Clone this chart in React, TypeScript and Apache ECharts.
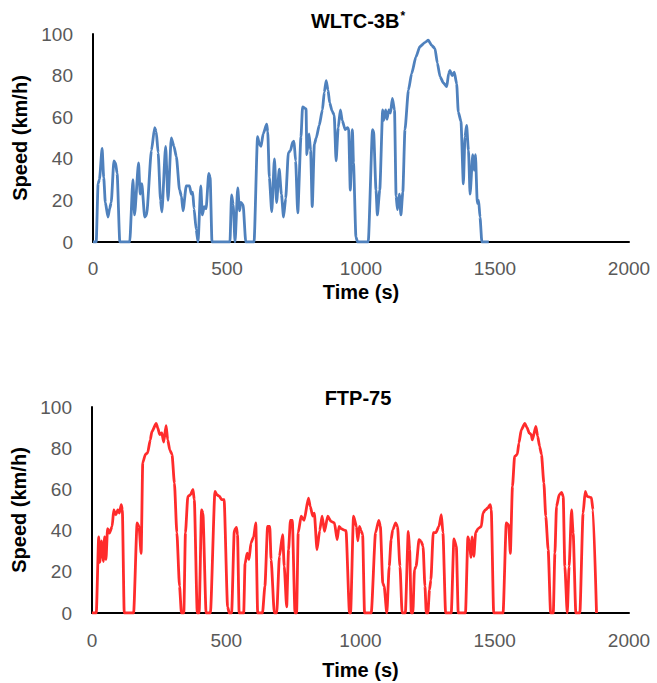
import React, { useEffect, useRef } from "react";
import * as echarts from "echarts";

// WLTC-3B* speed trace (time s, speed km/h)
const wltcTime = [0,12,19,24,34,40,46,56,62,68,78,84,90,100,137,149,155,170,176,182,193,200,218,230,236,243,252,257,271,280,292,302,311,323,330,336,348,360,367,372,377,385,392,402,408,415,422,432,437,444,511,517,523,530,540,547,552,560,570,601,614,621,627,635,648,652,658,667,677,685,695,703,711,719,729,737,745,750,756,764,776,782,795,798,806,812,818,826,833,844,856,863,870,877,883,892,900,907,915,923,930,941,950,954,960,968,972,981,987,1027,1043,1047,1056,1061,1070,1081,1085,1092,1097,1104,1110,1117,1125,1131,1136,1143,1149,1156,1164,1177,1189,1205,1220,1239,1251,1264,1276,1285,1295,1307,1320,1327,1332,1340,1348,1357,1363,1373,1382,1388,1394,1401,1407,1417,1422,1427,1434,1439,1444,1451,1477];
const wltcSpeed = [0,0,28,30,45,31,19,12,16,19,39,38,33,0,0,30,13,38,23,28,12,13,44,55,53,43,20,14.5,46,20,50,46,41,25,22,15,27,27,23,24,16,6,0,27,13,17,16,33,31,0,0,22.6,18,0,26,15,19,18,0,0,50.6,47,46,52,56.6,53,31,14.6,40,19,35,23,12,21,43,44,48,48.5,39,14,50.6,65,64,42,52,44,17,47,50,56,63.5,72,77.6,73,67,63,61,39,55,63.5,58.5,54,55,54,25,54,38,2.5,0,0,54,53,25,13,25,63.5,58.5,63.5,59,63.5,62,69,63.5,22,15.6,23,13,24,54,73,81,89,94,96,97,94.5,93,86,79.5,76.6,74.7,81,82.5,80,81.7,76,62.6,58,28,50.6,56,44,23,42,34.5,42,18.6,20,12,0,0];

// FTP-75 speed trace (time s, speed km/h)
const ftpTime = [0,16,25,29,36,42,47,52,58,65,75,81,89,96,102,109,113,120,155,168,175,183,189,199,207,217,223,239,245,252,260,267,276,282,290,298,307,316,326,333,342,348,357,367,376,381,392,399,408,413,425,441,458,465,475,483,492,505,511,520,530,538,542,548,565,570,578,585,592,602,610,617,635,644,654,662,667,679,688,698,710,716,725,732,739,746,756,762,768,779,790,806,813,822,828,838,848,857,866,878,890,903,913,920,928,937,946,959,963,974,985,990,996,1002,1008,1015,1040,1056,1068,1074,1083,1088,1098,1107,1114,1120,1131,1138,1147,1155,1167,1178,1183,1189,1195,1201,1207,1218,1226,1233,1240,1245,1251,1257,1262,1271,1281,1292,1301,1307,1317,1338,1348,1357,1364,1391,1400,1406,1411,1416,1422,1429,1438,1450,1456,1465,1474,1483,1487,1496,1531,1543,1552,1558,1566,1574,1584,1590,1599,1612,1621,1628,1636,1640,1653,1660,1667,1674,1683,1690,1699,1708,1718,1724,1730,1740,1749,1755,1761,1770,1777,1786,1792,1802,1817,1829,1837,1844,1860,1866,1879];
const ftpSpeed = [0,0,37,24.6,35,25,37,26,41,38.8,42,50,47.7,50,48.5,52.6,50,0,0,43.7,42,29,73,77,77.7,84,88,92,89.8,86.6,87.4,83,91,84,79,77,63,39,13,0,0,39,56.6,57.4,60,55,0,0,50,48.5,0,0,59,57.4,56.6,55,55,3,0,0,40,41.5,38,0,0,24,29,26,34,37,43.7,0,0,13,42,42,26,0,0,27.5,38,22.6,3,30.7,45,45,0,0,39,47,45,55.8,51.7,47,48.5,30.7,40,47,39.6,47,44.5,43.7,35.6,42,41,40.4,40,0,0,47,42,35,42,40,38,0,0,39,45,42,14.5,13,0,22.6,35.6,40.4,43.7,42,22.6,0,0,39.6,30.7,0,0,21,22.6,35.6,34.8,32.3,13,0,0,11.3,16,39,39,42,47.7,39,0,0,36,32.3,0,0,37,34,27,37,27.5,39,41,42,48.5,50,51,52.6,50,0,0,43.7,42.8,29,61.5,76,77,82.5,89,92,89.8,87.4,86.6,84,90.6,85.7,80.9,77,63,47,30.7,0,0,29,51.7,57.4,58.5,56.6,22.6,0,22.6,50,38.8,0,0,48.5,59,56.6,56,50,0];

const xTicks = { min: 0, max: 2000, interval: 500 };
const yTicks = { min: 0, max: 100, interval: 20 };

const FONT = "'Liberation Sans', Arial, sans-serif";

function pairs(t: number[], v: number[]) {
  return t.map((x, i) => [x, v[i]]);
}

export default function App() {
  const ref = useRef<HTMLDivElement>(null);
  useEffect(() => {
    if (!ref.current) return;
    const chart = echarts.init(ref.current, undefined, { renderer: "svg" });
    const grids = [
      { left: 93, top: 34, width: 536, height: 208 },
      { left: 92, top: 407, width: 537, height: 206 },
    ];
    const xNameGaps = [40, 47];
    const xLabelMargins = [17, 18];
    const yNameGaps = [63, 62];
    const mkX = (i: number) => ({
      type: "value",
      gridIndex: i,
      min: xTicks.min,
      max: xTicks.max,
      interval: xTicks.interval,
      name: "Time (s)",
      nameLocation: "middle",
      nameGap: xNameGaps[i],
      nameTextStyle: { fontFamily: FONT, fontSize: 20, fontWeight: "bold", color: "#000" },
      axisLine: { show: true, onZero: false, lineStyle: { color: "#000", width: 2 } },
      axisTick: { show: false },
      splitLine: { show: false },
      axisLabel: {
        fontFamily: FONT,
        fontSize: 19,
        color: "#595959",
        margin: xLabelMargins[i],
        formatter: (v: number) => String(v),
      },
    });
    const mkY = (i: number) => ({
      type: "value",
      gridIndex: i,
      min: yTicks.min,
      max: yTicks.max,
      interval: yTicks.interval,
      name: "Speed (km/h)",
      nameLocation: "middle",
      nameGap: yNameGaps[i],
      nameTextStyle: { fontFamily: FONT, fontSize: 20, fontWeight: "bold", color: "#000" },
      axisLine: { show: true, lineStyle: { color: "#000", width: 2 } },
      axisTick: { show: false },
      splitLine: { show: false },
      axisLabel: { fontFamily: FONT, fontSize: 19, color: "#595959", margin: 20, formatter: (v: number) => String(v) },
    });
    chart.setOption({
      animation: false,
      grid: grids,
      xAxis: [mkX(0), mkX(1)],
      yAxis: [mkY(0), mkY(1)],
      graphic: [
        {
          type: "text",
          x: 358,
          y: 21,
          style: {
            text: "{a|WLTC-3B}{s|*}",
            textAlign: "center",
            textVerticalAlign: "middle",
            rich: {
              a: { fontFamily: FONT, fontSize: 20, fontWeight: "bold", fill: "#000", color: "#000" },
              s: { fontFamily: FONT, fontSize: 12, fontWeight: "bold", fill: "#000", color: "#000", padding: [0, 0, 10, 1] },
            },
          },
        },
        {
          type: "text",
          x: 358,
          y: 397.5,
          style: {
            text: "FTP-75",
            textAlign: "center",
            textVerticalAlign: "middle",
            font: `bold 20px ${FONT}`,
            fill: "#000",
          },
        },
      ],
      series: [
        {
          type: "line",
          xAxisIndex: 0,
          yAxisIndex: 0,
          data: pairs(wltcTime, wltcSpeed),
          showSymbol: false,
          symbol: "none",
          smooth: 0.2,
          smoothMonotone: "x",
          lineStyle: { color: "#4F81BD", width: 2.8 },
          itemStyle: { color: "#4F81BD" },
        },
        {
          type: "line",
          xAxisIndex: 1,
          yAxisIndex: 1,
          data: pairs(ftpTime, ftpSpeed),
          showSymbol: false,
          symbol: "none",
          smooth: 0.2,
          smoothMonotone: "x",
          lineStyle: { color: "#FF2B2B", width: 2.8 },
          itemStyle: { color: "#FF2B2B" },
        },
      ],
    });
    return () => chart.dispose();
  }, []);
  return (
    <div
      ref={ref}
      style={{ position: "absolute", left: 0, top: 0, width: 657, height: 683, background: "#fff" }}
    />
  );
}
